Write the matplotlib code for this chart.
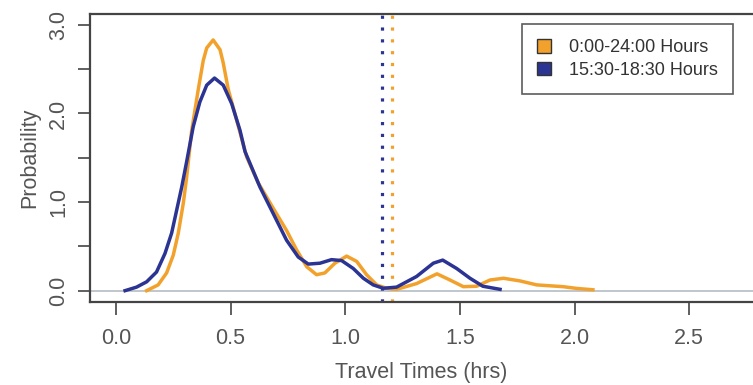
"""Density of travel times: whole day vs. evening peak."""

import matplotlib

matplotlib.use("Agg")

import matplotlib.pyplot as plt
from matplotlib.patches import Patch

# Travel time (hrs) and density
ALL_DAY_X = [0.134, 0.184, 0.221, 0.25, 0.272, 0.294, 0.308, 0.33, 0.359, 0.381, 0.396, 0.424,
             0.454, 0.468, 0.49, 0.526, 0.57, 0.62, 0.686, 0.744, 0.788, 0.832, 0.875, 0.911,
             0.955, 1.006, 1.05, 1.093, 1.137, 1.18, 1.224, 1.311, 1.40, 1.457, 1.515, 1.573,
             1.631, 1.69, 1.762, 1.835, 1.95, 2.01, 2.08]
ALL_DAY_Y = [0.0, 0.065, 0.20, 0.40, 0.65, 0.99, 1.27, 1.80, 2.27, 2.60, 2.74, 2.83,
             2.72, 2.57, 2.27, 1.93, 1.51, 1.22, 0.93, 0.68, 0.46, 0.27, 0.18, 0.20,
             0.31, 0.39, 0.33, 0.18, 0.065, 0.027, 0.015, 0.08, 0.19, 0.12, 0.045, 0.05,
             0.12, 0.14, 0.11, 0.065, 0.045, 0.025, 0.01]

PEAK_X = [0.04, 0.09, 0.134, 0.177, 0.214, 0.243, 0.265, 0.287, 0.308, 0.337, 0.366, 0.396,
          0.43, 0.468, 0.505, 0.541, 0.563, 0.628, 0.686, 0.744, 0.795, 0.839, 0.89, 0.94,
          0.984, 1.035, 1.079, 1.122, 1.166, 1.224, 1.311, 1.384, 1.425, 1.486, 1.544, 1.60,
          1.675]
PEAK_Y = [0.0, 0.04, 0.10, 0.21, 0.42, 0.65, 0.91, 1.17, 1.45, 1.85, 2.13, 2.32,
          2.40, 2.32, 2.11, 1.81, 1.57, 1.17, 0.87, 0.57, 0.38, 0.30, 0.31, 0.35,
          0.34, 0.25, 0.14, 0.065, 0.027, 0.04, 0.16, 0.31, 0.345, 0.25, 0.14, 0.05,
          0.015]

ALL_DAY_MEAN = 1.206
PEAK_MEAN = 1.162

LABELS = ["0:00-24:00 Hours", "15:30-18:30 Hours"]
ORANGE = "#F2A22C"
BLUE = "#2B3393"


def main() -> None:
    plt.rcParams["font.family"] = ["Liberation Sans", "DejaVu Sans"]

    fig = plt.figure(figsize=(7.53, 3.85), dpi=100)
    ax = fig.add_axes([90 / 753, 83 / 385, 663 / 753, 288 / 385])

    ax.axhline(0, color="#B4BCC4", linewidth=1.2, zorder=1)
    ax.plot(ALL_DAY_X, ALL_DAY_Y, color=ORANGE, linewidth=2.5, zorder=3,
            solid_joinstyle="round")
    ax.plot(PEAK_X, PEAK_Y, color=BLUE, linewidth=2.5, zorder=4, solid_joinstyle="round")
    ax.axvline(PEAK_MEAN, color=BLUE, linewidth=2.3, linestyle=(0, (1, 2.7)), zorder=2)
    ax.axvline(ALL_DAY_MEAN, color=ORANGE, linewidth=2.3, linestyle=(0, (1, 2.7)), zorder=2)

    ax.set_xlim(-0.113, 2.778)
    ax.set_ylim(-0.128, 3.123)
    ax.set_xticks([0.0, 0.5, 1.0, 1.5, 2.0, 2.5])
    ax.set_xticklabels(["0.0", "0.5", "1.0", "1.5", "2.0", "2.5"])
    ax.set_yticks([0.0, 0.5, 1.0, 1.5, 2.0, 2.5, 3.0])
    ax.set_yticklabels(["0.0", "", "1.0", "", "2.0", "", "3.0"], rotation=90, va="center")

    for side in ("left", "bottom", "top"):
        ax.spines[side].set_color("#444444")
        ax.spines[side].set_linewidth(1.6)
    ax.spines["right"].set_visible(False)
    ax.tick_params(axis="both", length=9, width=1.2, color="#444444",
                   labelsize=15.5, labelcolor="#555555", pad=6)
    ax.tick_params(axis="x", pad=10)

    ax.set_xlabel("Travel Times (hrs)", fontsize=15.5, color="#555555", labelpad=9)
    ax.set_ylabel("Probability", fontsize=15.5, color="#555555", labelpad=6)

    handles = [Patch(facecolor=ORANGE, edgecolor="#333333"),
               Patch(facecolor=BLUE, edgecolor="#333333")]
    leg = ax.legend(handles, LABELS, loc="upper right", bbox_to_anchor=(733 / 753, 1 - 24 / 385),
                    bbox_transform=fig.transFigure, borderaxespad=0,
                    fontsize=13, frameon=True, fancybox=False, handlelength=0.75, handleheight=0.75,
                    handletextpad=1.0, borderpad=0.85, labelspacing=0.3, labelcolor="#333333")
    leg.get_frame().set_edgecolor("#333333")
    leg.get_frame().set_linewidth(1.2)

    fig.savefig("out.png", dpi=100)
    plt.close(fig)


if __name__ == "__main__":
    main()
